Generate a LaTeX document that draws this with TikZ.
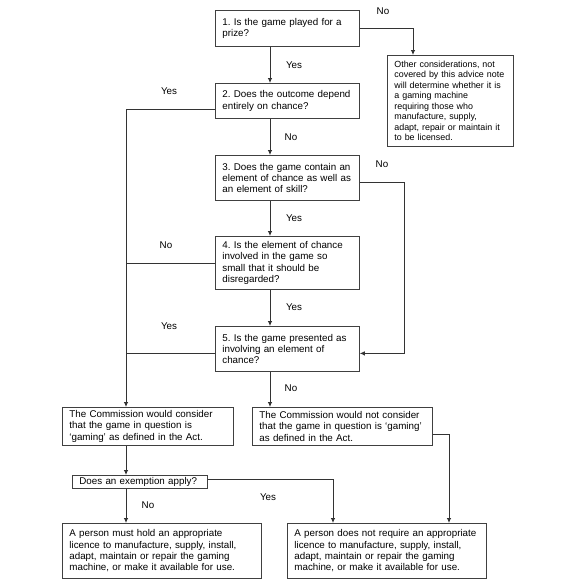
\documentclass[tikz,border=0pt]{standalone}
\usepackage{fontspec}
\setmainfont{Liberation Sans}
\usetikzlibrary{arrows.meta}
\frenchspacing
\begin{document}
\begin{tikzpicture}[x=1pt,y=-1pt,
  box/.style={draw=black!75,line width=0.8pt,anchor=north west,inner xsep=7pt,inner ysep=0pt,align=left,
    font=\fontsize{9.8}{11.4}\selectfont},
  smallbox/.style={box,font=\fontsize{8.9}{10.5}\selectfont},
  lab/.style={font=\fontsize{9.8}{11.4}\selectfont,inner sep=0pt},
  conn/.style={draw=black!80,line width=0.8pt},
  arr/.style={conn,-{Latex[length=5pt,width=4.5pt]}}]
\useasboundingbox (0,0) rectangle (582,582);
% boxes
\node[box,text width=130pt,minimum height=36pt] (b1) at (215,10) {1. Is the game played for a\\prize?};
\node[box,text width=130pt,minimum height=35pt] (b2) at (215,83) {2. Does the outcome depend\\entirely on chance?};
\node[smallbox,text width=112pt,minimum height=91pt] (oth) at (387,55) {Other considerations, not\\covered by this advice note\\will determine whether it is\\a gaming machine\\requiring those who\\manufacture, supply,\\adapt, repair or maintain it\\to be licensed.};
\node[box,text width=130pt,minimum height=45pt] (b3) at (215,155) {3. Does the game contain an\\element of chance as well as\\an element of skill?};
\node[box,text width=130pt,minimum height=53pt] (b4) at (215,236) {4. Is the element of chance\\involved in the game so\\small that it should be\\disregarded?};
\node[box,text width=130pt,minimum height=45pt] (b5) at (215,326) {5. Is the game presented as\\involving an element of\\chance?};
\node[box,text width=157pt,minimum height=38pt] (cl) at (62,407) {The Commission would consider\\that the game in question is\\`gaming' as defined in the Act.};
\node[box,text width=166pt,minimum height=38pt] (cr) at (252,407) {The Commission would not consider\\that the game in question is `gaming'\\as defined in the Act.};
\node[box,text width=121pt,minimum height=13pt] (ex) at (72,475) {Does an exemption apply?};
\node[box,text width=185pt,minimum height=55pt] (pl) at (62,523) {A person must hold an appropriate\\licence to manufacture, supply, install,\\adapt, maintain or repair the gaming\\machine, or make it available for use.};
\node[box,text width=185pt,minimum height=55pt] (pr) at (287,523) {A person does not require an appropriate\\licence to manufacture, supply, install,\\adapt, maintain or repair the gaming\\machine, or make it available for use.};
% guide coordinates
\coordinate (mx) at (270,0);
\coordinate (lx) at (126,0);
\coordinate (rx) at (404,0);
\coordinate (ox) at (413,0);
\coordinate (ax) at (333,0);
\coordinate (bx) at (449,0);
% connectors
\draw[arr] (b1.south -| mx) -- (b2.north -| mx);
\draw[arr] (b2.south -| mx) -- (b3.north -| mx);
\draw[arr] (b3.south -| mx) -- (b4.north -| mx);
\draw[arr] (b4.south -| mx) -- (b5.north -| mx);
\draw[arr] (b5.south -| mx) -- (cr.north -| mx);
\draw[arr] (b1.east) -| (oth.north -| ox);
\draw[arr] ([yshift=-8.5pt]b2.west) -| (cl.north -| lx);
\draw[conn] (b4.west) -- (b4.west -| lx);
\draw[conn] ([yshift=-4.5pt]b5.west) -- ([yshift=-4.5pt]b5.west -| lx);
\draw[arr] ([yshift=-4.5pt]b3.east) -| ([yshift=-4.5pt]b5.east -| rx) -- ([yshift=-4.5pt]b5.east);
\draw[arr] (cl.south -| lx) -- (ex.north -| lx);
\draw[arr] (ex.south -| lx) -- (pl.north -| lx);
\draw[arr] ([yshift=2.5pt]ex.east) -| (pr.north -| ax);
\draw[arr] ([yshift=-8pt]cr.east) -| (pr.north -| bx);
% labels
\node[lab] (l1) at (383,11) {No};
\node[lab] (l2) at (294,65) {Yes};
\node[lab] (l3) at (169,91) {Yes};
\node[lab] (l4) at (291,137) {No};
\node[lab] (l5) at (382,164) {No};
\node[lab] (l6) at (294,218) {Yes};
\node[lab] (l7) at (166,245) {No};
\node[lab] (l8) at (294,307) {Yes};
\node[lab] (l9) at (169,326) {Yes};
\node[lab] (l10) at (291,388) {No};
\node[lab] (l11) at (268,497) {Yes};
\node[lab] (l12) at (148,505) {No};
\end{tikzpicture}
\end{document}
